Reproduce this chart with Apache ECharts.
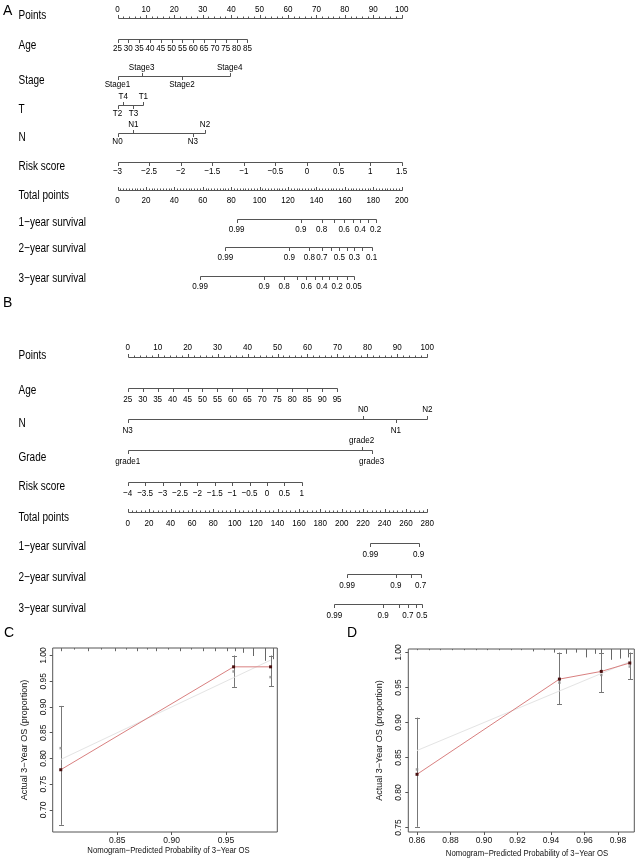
<!DOCTYPE html>
<html><head><meta charset="utf-8">
<script src="https://cdn.jsdelivr.net/npm/echarts@6/dist/echarts.min.js"></script>
<style>html,body{margin:0;padding:0;background:#fff;}#c{width:641px;height:862px;}</style>
</head><body><div id="c"></div>
<script>
// ================= DATA =================
// ---- Nomogram A ----
const A_pointsTicks = [0,10,20,30,40,50,60,70,80,90,100];
const A_ageTicks = [25,30,35,40,45,50,55,60,65,70,75,80,85];
const A_ageRange = [25,85];
const A_agePoints = [0,45.7];
const A_stageLevels = ['Stage1','Stage3','Stage2','Stage4'];
const A_stagePoints = [0,8.5,22.7,39.5];
const A_tLevels = ['T2','T4','T3','T1'];
const A_tPoints = [0,2.0,5.6,9.1];
const A_nLevels = ['N0','N1','N3','N2'];
const A_nPoints = [0,5.6,26.5,30.8];
const A_riskTicks = [-3,-2.5,-2,-1.5,-1,-0.5,0,0.5,1,1.5];
const A_riskRange = [-3,1.5];
const A_riskPoints = [0,100];
const A_totalTicks = [0,20,40,60,80,100,120,140,160,180,200];
const A_surv1Prob  = [0.99,0.9,0.8,0.7,0.6,0.5,0.4,0.3,0.2];
const A_surv1Total = [83.9,129.1,143.6,152.6,159.5,165.4,170.8,176.1,181.6];
const A_surv1Label = ['0.99','0.9','0.8','','0.6','','0.4','','0.2'];
const A_surv2Prob  = [0.99,0.9,0.8,0.7,0.6,0.5,0.4,0.3,0.2,0.1];
const A_surv2Total = [75.9,120.9,135.0,143.8,150.5,156.2,161.5,166.7,172.1,178.8];
const A_surv2Label = ['0.99','0.9','0.8','0.7','','0.5','','0.3','','0.1'];
const A_surv3Prob  = [0.99,0.9,0.8,0.7,0.6,0.5,0.4,0.3,0.2,0.1,0.05];
const A_surv3Total = [58.1,103.1,117.2,126.1,132.9,138.7,143.9,149.1,154.6,161.4,166.3];
const A_surv3Label = ['0.99','0.9','0.8','','0.6','','0.4','','0.2','','0.05'];

// ---- Nomogram B ----
const B_pointsTicks = [0,10,20,30,40,50,60,70,80,90,100];
const B_ageTicks = [25,30,35,40,45,50,55,60,65,70,75,80,85,90,95];
const B_ageRange = [25,95];
const B_agePoints = [0,69.9];
const B_nLevels = ['N3','N0','N1','N2'];
const B_nPoints = [0,78.6,89.5,100];
const B_gradeLevels = ['grade1','grade2','grade3'];
const B_gradePoints = [0,78.1,81.4];
const B_riskTicks = [-4,-3.5,-3,-2.5,-2,-1.5,-1,-0.5,0,0.5,1];
const B_riskRange = [-4,1];
const B_riskPoints = [0,58.1];
const B_totalTicks = [0,20,40,60,80,100,120,140,160,180,200,220,240,260,280];
const B_surv1Prob  = [0.99,0.9];
const B_surv1Total = [226.9,271.8];
const B_surv1Label = ['0.99','0.9'];
const B_surv2Prob  = [0.99,0.9,0.8,0.7];
const B_surv2Total = [205.1,250.6,264.4,273.7];
const B_surv2Label = ['0.99','0.9','','0.7'];
const B_surv3Prob  = [0.99,0.9,0.8,0.7,0.6,0.5];
const B_surv3Total = [193.2,238.8,253.4,261.8,269.0,274.9];
const B_surv3Label = ['0.99','0.9','','0.7','','0.5'];

// ---- Calibration C ----
const C_pred = [0.798,0.957,0.991];
const C_obs  = [0.778,0.978,0.978];
const C_corr = [0.820,0.969,0.958];
const C_lo   = [0.671,0.939,0.940];
const C_hi   = [0.902,1.000,1.000];
const C_rugX = [0.798,0.810,0.823,0.835,0.848,0.858,0.868,0.877,0.886,0.897,0.908,0.918,0.929,0.940,0.951,0.958,0.966,0.975,0.986,0.993];
const C_rugN = [2,1,2,1,2,1,2,1,2,1,2,1,2,2,2,2,3,5,8,7];
const C_xTicks = [0.85,0.90,0.95];
const C_yTicks = [0.70,0.75,0.80,0.85,0.90,0.95,1.00];

// ---- Calibration D ----
const D_pred = [0.860,0.945,0.970,0.987];
const D_obs  = [0.826,0.962,0.973,0.985];
const D_corr = [0.833,0.957,0.968,0.980];
const D_lo   = [0.751,0.926,0.943,0.962];
const D_hi   = [0.907,1.000,1.000,1.000];
const D_rugX = [0.860,0.867,0.874,0.881,0.888,0.895,0.902,0.909,0.916,0.922,0.929,0.936,0.942,0.949,0.955,0.961,0.966,0.970,0.976,0.981,0.986];
const D_rugN = [1,1,1,1,1,1,1,1,1,1,2,1,3,4,3,7,4,9,9,8,7];
const D_xTicks = [0.86,0.88,0.90,0.92,0.94,0.96,0.98];
const D_yTicks = [0.75,0.80,0.85,0.90,0.95,1.00];

const X_TITLE = 'Nomogram\u2212Predicted Probability of 3\u2212Year OS';
const Y_TITLE = 'Actual 3\u2212Year OS (proportion)';

// ================= LAYOUT / STYLE =================
const FONT = '"Liberation Sans",Arial,Helvetica,sans-serif';
const LINE_C = '#555', TEXT_C = '#000';
const TICK_FS = 9.5, NAME_FS = 12.5, SX_TICK = 0.85, SX_NAME = 0.8;
const A_nameY = [16,46,80.3,110,137.3,166.7,195.7,222.3,249,279];
const A_lineY = [18.3,39,76,104.7,132.7,162,190.3,218.7,246.7,275.7];
const B_nameY = [356,391,424,457.3,486.7,517.3,546.7,577.3,609];
const B_lineY = [357.3,388.3,419,450,481.7,511.7,542.7,574,604];
const NAME_X = 18.5;

const minus = v => String(v).replace('-', '\u2212');
const lin = (v, r, p) => p[0] + (v - r[0]) / (r[1] - r[0]) * (p[1] - p[0]);

function pointsRow(name, ny, ly, ticks) {
  const t = [], l = [];
  for (let v = ticks[0]; v <= ticks[ticks.length-1] + 1e-9; v += 2) {
    const major = ticks.some(x => Math.abs(x - v) < 1e-6);
    t.push({v, len: major ? 3.5 : 2, dir: -1});
  }
  ticks.forEach(v => l.push({v, text: String(v), dir: -1}));
  return {name, ny, ly, from: ticks[0], to: ticks[ticks.length-1], ticks: t, labels: l};
}
function totalRow(name, ny, ly, ticks, minor) {
  const t = [], l = [];
  for (let v = ticks[0]; v <= ticks[ticks.length-1] + 1e-9; v += minor) {
    const major = ticks.some(x => Math.abs(x - v) < 1e-6);
    t.push({v, len: major ? 3.5 : 2, dir: -1});
  }
  ticks.forEach(v => l.push({v, text: String(v), dir: 1}));
  return {name, ny, ly, from: ticks[0], to: ticks[ticks.length-1], ticks: t, labels: l};
}
function contRow(name, ny, ly, ticks, range, pts) {
  const t = ticks.map(v => ({v: lin(v, range, pts), len: 3.5, dir: 1}));
  const l = ticks.map(v => ({v: lin(v, range, pts), text: minus(v), dir: 1}));
  return {name, ny, ly, from: pts[0], to: pts[1], ticks: t, labels: l};
}
function catRow(name, ny, ly, levels, pts) {
  const idx = levels.map((_, i) => i).sort((a, b) => pts[a] - pts[b]);
  const t = [], l = [];
  idx.forEach((i, k) => {
    const dir = k % 2 === 0 ? 1 : -1;
    t.push({v: pts[i], len: 3.5, dir, cat: true});
    l.push({v: pts[i], text: levels[i], dir, cat: true});
  });
  return {name, ny, ly, from: Math.min(...pts), to: Math.max(...pts), ticks: t, labels: l};
}
function survRow(name, ny, ly, tot, labs) {
  const t = tot.map(v => ({v, len: 3.5, dir: 1}));
  const l = [];
  tot.forEach((v, i) => { if (labs[i]) l.push({v, text: labs[i], dir: 1}); });
  return {name, ny, ly, from: Math.min(...tot), to: Math.max(...tot), ticks: t, labels: l};
}

function nomoSeries(rows, xIdx, yIdx, off) {
  return {
    type: 'custom', xAxisIndex: xIdx, yAxisIndex: yIdx, clip: false, silent: true,
    data: rows.map((r, i) => [i]),
    renderItem: (params, api) => {
      const r = rows[params.dataIndex];
      const y = Math.round(api.coord([0, r.ly])[1]) + 0.5;
      const X = v => Math.round(api.coord([v, r.ly])[0]) + 0.5;
      const ch = [{type: 'line', shape: {x1: X(r.from), y1: y, x2: X(r.to), y2: y}, style: {stroke: LINE_C, lineWidth: 1}}];
      r.ticks.forEach(t => ch.push({type: 'line', shape: {x1: X(t.v), y1: y, x2: X(t.v), y2: y + t.dir * t.len}, style: {stroke: LINE_C, lineWidth: 1}}));
      r.labels.forEach(lb => {
        const o = lb.dir < 0 ? off.above : (lb.cat ? off.catBelow : off.below);
        ch.push({type: 'text', x: api.coord([lb.v, r.ly])[0], y: y + o, scaleX: SX_TICK,
          style: {text: lb.text, align: 'center', verticalAlign: 'middle', fontSize: TICK_FS, fontFamily: FONT, fill: TEXT_C}});
      });
      ch.push({type: 'text', x: NAME_X, y: api.coord([0, r.ny])[1], scaleX: SX_NAME,
        style: {text: r.name, align: 'left', verticalAlign: 'middle', fontSize: NAME_FS, fontFamily: FONT, fill: TEXT_C}});
      return {type: 'group', children: ch};
    }
  };
}

// ---- build rows ----
const A_rowsP = [
  pointsRow('Points', A_nameY[0], A_lineY[0], A_pointsTicks),
  contRow('Age', A_nameY[1], A_lineY[1], A_ageTicks, A_ageRange, A_agePoints),
  catRow('Stage', A_nameY[2], A_lineY[2], A_stageLevels, A_stagePoints),
  catRow('T', A_nameY[3], A_lineY[3], A_tLevels, A_tPoints),
  catRow('N', A_nameY[4], A_lineY[4], A_nLevels, A_nPoints),
  contRow('Risk score', A_nameY[5], A_lineY[5], A_riskTicks, A_riskRange, A_riskPoints)
];
const A_rowsT = [
  totalRow('Total points', A_nameY[6], A_lineY[6], A_totalTicks, 2),
  survRow('1\u2212year survival', A_nameY[7], A_lineY[7], A_surv1Total, A_surv1Label),
  survRow('2\u2212year survival', A_nameY[8], A_lineY[8], A_surv2Total, A_surv2Label),
  survRow('3\u2212year survival', A_nameY[9], A_lineY[9], A_surv3Total, A_surv3Label)
];
const B_rowsP = [
  pointsRow('Points', B_nameY[0], B_lineY[0], B_pointsTicks),
  contRow('Age', B_nameY[1], B_lineY[1], B_ageTicks, B_ageRange, B_agePoints),
  catRow('N', B_nameY[2], B_lineY[2], B_nLevels, B_nPoints),
  catRow('Grade', B_nameY[3], B_lineY[3], B_gradeLevels, B_gradePoints),
  contRow('Risk score', B_nameY[4], B_lineY[4], B_riskTicks, B_riskRange, B_riskPoints)
];
const B_rowsT = [
  totalRow('Total points', B_nameY[5], B_lineY[5], B_totalTicks, 4),
  survRow('1\u2212year survival', B_nameY[6], B_lineY[6], B_surv1Total, B_surv1Label),
  survRow('2\u2212year survival', B_nameY[7], B_lineY[7], B_surv2Total, B_surv2Label),
  survRow('3\u2212year survival', B_nameY[8], B_lineY[8], B_surv3Total, B_surv3Label)
];

// ---- calibration helpers ----
const zip = (a, b) => a.map((v, i) => [v, b[i]]);
function errSeries(xi, yi, pred, lo, hi) {
  return {type: 'custom', xAxisIndex: xi, yAxisIndex: yi, silent: true, clip: false,
    data: pred.map((p, i) => [p, lo[i], hi[i]]),
    renderItem: (params, api) => {
      const a = api.coord([api.value(0), api.value(1)]), b = api.coord([api.value(0), api.value(2)]);
      const x = Math.round(a[0]) + 0.5, w = 2.5;
      const st = {stroke: '#777', lineWidth: 1};
      return {type: 'group', children: [
        {type: 'line', shape: {x1: x, y1: a[1], x2: x, y2: b[1]}, style: st},
        {type: 'line', shape: {x1: x - w, y1: Math.round(a[1]) + 0.5, x2: x + w, y2: Math.round(a[1]) + 0.5}, style: st},
        {type: 'line', shape: {x1: x - w, y1: Math.round(b[1]) + 0.5, x2: x + w, y2: Math.round(b[1]) + 0.5}, style: st}
      ]};
    }};
}
function rugSeries(xi, yi, xs, ns, yTop, unit) {
  return {type: 'custom', xAxisIndex: xi, yAxisIndex: yi, silent: true, clip: false,
    data: xs.map((x, i) => [x, ns[i]]),
    renderItem: (params, api) => {
      const p = api.coord([api.value(0), yTop]);
      const x = Math.round(p[0]) + 0.5;
      return {type: 'line', shape: {x1: x, y1: p[1], x2: x, y2: p[1] + api.value(1) * unit}, style: {stroke: '#666', lineWidth: 1}};
    }};
}
function calAxisX(gi, min, max, ticks) {
  return {type: 'value', gridIndex: gi, min, max,
    axisLine: {show: false}, splitLine: {show: false},
    axisTick: {show: true, length: 3, lineStyle: {color: '#555'}, customValues: ticks},
    axisLabel: {fontSize: 8.5, fontFamily: FONT, color: '#111', margin: 4, customValues: ticks, formatter: v => v.toFixed(2)}};
}
function calAxisY(gi, min, max, ticks, gap) {
  return {type: 'value', gridIndex: gi, min, max,
    name: Y_TITLE, nameLocation: 'middle', nameGap: gap, nameRotate: 90,
    nameTextStyle: {fontSize: 9, fontFamily: FONT, color: '#111'},
    axisLine: {show: false}, splitLine: {show: false},
    axisTick: {show: true, length: 3, lineStyle: {color: '#555'}, customValues: ticks},
    axisLabel: {fontSize: 8.5, fontFamily: FONT, color: '#111', rotate: 90, margin: 5, customValues: ticks, formatter: v => v.toFixed(2)}};
}
function calSeries(xi, yi, pred, obs, corr, lo, hi, rugX, rugN, yTop, rugUnit) {
  const ideal = [[pred[0], pred[0]], [pred[pred.length-1], pred[pred.length-1]]];
  return [
    rugSeries(xi, yi, rugX, rugN, yTop, rugUnit),
    {type: 'line', xAxisIndex: xi, yAxisIndex: yi, data: ideal, symbol: 'none', silent: true,
     lineStyle: {color: '#e4e4e4', width: 1}},
    errSeries(xi, yi, pred, lo, hi),
    {type: 'line', xAxisIndex: xi, yAxisIndex: yi, data: zip(pred, obs), symbol: 'rect', symbolSize: 3, silent: true,
     lineStyle: {color: '#d98080', width: 1}, itemStyle: {color: '#4a1010'}},
    {type: 'scatter', xAxisIndex: xi, yAxisIndex: yi, data: zip(pred, corr), symbol: 'rect', symbolSize: 2.5, silent: true,
     itemStyle: {color: '#8a8a8a'}}
  ];
}

const C_x = [0.7906, 0.9972], C_y = [0.657, 1.0146];
const D_x = [0.8548, 0.9897], D_y = [0.7436, 1.005];

const chart = echarts.init(document.getElementById('c'), null, {renderer: 'canvas'});
chart.setOption({
  animation: false,
  backgroundColor: '#fff',
  grid: [
    {left: 117.5, top: 0, width: 284.2, height: 862, show: false},
    {left: 127.7, top: 0, width: 299.6, height: 862, show: false},
    {left: 52.7, top: 648, width: 224.6, height: 184, show: true, borderColor: '#555', borderWidth: 1, backgroundColor: 'transparent'},
    {left: 408.3, top: 649, width: 226, height: 183, show: true, borderColor: '#555', borderWidth: 1, backgroundColor: 'transparent'}
  ],
  xAxis: [
    {type: 'value', gridIndex: 0, min: 0, max: 100, show: false},
    {type: 'value', gridIndex: 0, min: 0, max: 200, show: false},
    {type: 'value', gridIndex: 1, min: 0, max: 100, show: false},
    {type: 'value', gridIndex: 1, min: 0, max: 280, show: false},
    calAxisX(2, C_x[0], C_x[1], C_xTicks),
    calAxisX(3, D_x[0], D_x[1], D_xTicks)
  ],
  yAxis: [
    {type: 'value', gridIndex: 0, min: 0, max: 862, inverse: true, show: false},
    {type: 'value', gridIndex: 1, min: 0, max: 862, inverse: true, show: false},
    calAxisY(2, C_y[0], C_y[1], C_yTicks, 24),
    calAxisY(3, D_y[0], D_y[1], D_yTicks, 24)
  ],
  graphic: [
    {type: 'text', left: 3, top: 4, style: {text: 'A', fontSize: 14, fontFamily: FONT, fill: TEXT_C}},
    {type: 'text', left: 3, top: 296, style: {text: 'B', fontSize: 14, fontFamily: FONT, fill: TEXT_C}},
    {type: 'text', left: 4, top: 626, style: {text: 'C', fontSize: 14, fontFamily: FONT, fill: TEXT_C}},
    {type: 'text', left: 347, top: 626, style: {text: 'D', fontSize: 14, fontFamily: FONT, fill: TEXT_C}},
    {type: 'text', x: 168.5, y: 850.5, scaleX: 0.86, style: {text: X_TITLE, align: 'center', verticalAlign: 'middle', fontSize: 9, fontFamily: FONT, fill: '#111'}},
    {type: 'text', x: 527, y: 854, scaleX: 0.86, style: {text: X_TITLE, align: 'center', verticalAlign: 'middle', fontSize: 9, fontFamily: FONT, fill: '#111'}}
  ],
  series: [
    nomoSeries(A_rowsP, 0, 0, {above: -9.3, below: 9.3, catBelow: 7.5}),
    nomoSeries(A_rowsT, 1, 0, {above: -9.3, below: 9.8, catBelow: 7.5}),
    nomoSeries(B_rowsP, 2, 1, {above: -10.5, below: 10.5, catBelow: 11}),
    nomoSeries(B_rowsT, 3, 1, {above: -10.5, below: 10.5, catBelow: 11}),
    ...calSeries(4, 2, C_pred, C_obs, C_corr, C_lo, C_hi, C_rugX, C_rugN, C_y[1], 1.6),
    ...calSeries(5, 3, D_pred, D_obs, D_corr, D_lo, D_hi, D_rugX, D_rugN, D_y[1], 1.2)
  ]
});
</script></body></html>
